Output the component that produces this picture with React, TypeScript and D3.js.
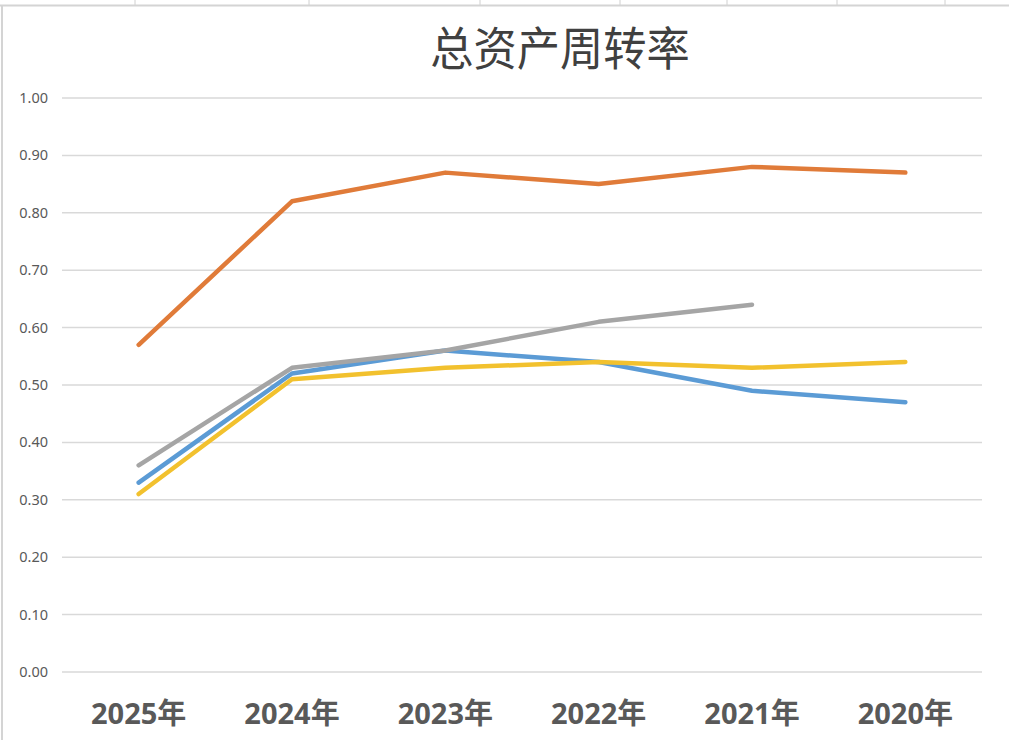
import React from "react";
import * as d3 from "d3";

const categories = ["2025年", "2024年", "2023年", "2022年", "2021年", "2020年"];
const orangeValues = [0.57, 0.82, 0.87, 0.85, 0.88, 0.87];
const grayValues: (number | null)[] = [0.36, 0.53, 0.56, 0.61, 0.64, null];
const blueValues = [0.33, 0.52, 0.56, 0.54, 0.49, 0.47];
const yellowValues = [0.31, 0.51, 0.53, 0.54, 0.53, 0.54];
const yTicks = [0, 0.1, 0.2, 0.3, 0.4, 0.5, 0.6, 0.7, 0.8, 0.9, 1.0];
const title = "总资产周转率";

const seriesList = [
  { name: "blue", values: blueValues, color: "#5B9BD5" },
  { name: "yellow", values: yellowValues, color: "#F2C12E" },
  { name: "gray", values: grayValues, color: "#A5A5A5" },
  { name: "orange", values: orangeValues, color: "#E07B39" },
];

const W = 1009;
const H = 740;
const plot = { left: 62, right: 982, top: 98, bottom: 672 };

export default function App() {
  const x = d3
    .scaleBand<string>()
    .domain(categories)
    .range([plot.left, plot.right])
    .paddingInner(0)
    .paddingOuter(0);
  const y = d3.scaleLinear().domain([0, 1]).range([plot.bottom, plot.top]);
  const cx = (c: string) => (x(c) ?? 0) + x.bandwidth() / 2;

  const line = d3
    .line<number | null>()
    .defined((d) => d !== null)
    .x((_, i) => cx(categories[i]))
    .y((d) => y(d as number));

  const sheetTicks = [135, 309, 480, 620, 727, 837, 945];

  return (
    <svg
      width={W}
      height={H}
      style={{ position: "absolute", left: 0, top: 0, background: "#fff" }}
      fontFamily="'Noto Sans', 'Noto Sans CJK SC', sans-serif"
    >
      <rect x={0} y={0} width={W} height={H} fill="#fff" />
      {sheetTicks.map((t) => (
        <line key={t} x1={t} x2={t} y1={0} y2={5} stroke="#d0d0d0" strokeWidth={1} />
      ))}
      <line x1={0} x2={W} y1={5.5} y2={5.5} stroke="#d4d4d4" strokeWidth={2} />
      <line x1={2} x2={2} y1={5} y2={H} stroke="#d4d4d4" strokeWidth={2} />

      <text
        x={560}
        y={65}
        textAnchor="middle"
        fontSize={46}
        fill="#404040"
        fontFamily="'Noto Sans CJK SC', sans-serif"
        style={{ fontWeight: 400 }}
        transform="translate(560,0) scale(0.94,1) translate(-560,0)"
      >
        {title}
      </text>

      {yTicks.map((t) => (
        <g key={t}>
          <line
            x1={plot.left}
            x2={plot.right}
            y1={y(t)}
            y2={y(t)}
            stroke="#d9d9d9"
            strokeWidth={1.5}
          />
          <text
            x={48}
            y={y(t)}
            dy="0.35em"
            textAnchor="end"
            fontSize={14.5}
            fill="#595959"
          >
            {t.toFixed(2)}
          </text>
        </g>
      ))}

      {categories.map((c) => (
        <text
          key={c}
          x={cx(c)}
          y={724}
          textAnchor="middle"
          fontSize={29}
          fontWeight="bold"
          fill="#595959"
          fontFamily="'Open Sans', 'Noto Sans CJK SC', sans-serif"
        >
          {c}
        </text>
      ))}

      {seriesList.map((s) => (
        <path
          key={s.name}
          d={line(s.values as (number | null)[]) ?? ""}
          fill="none"
          stroke={s.color}
          strokeWidth={4.5}
          strokeLinecap="round"
          strokeLinejoin="round"
        />
      ))}
    </svg>
  );
}
